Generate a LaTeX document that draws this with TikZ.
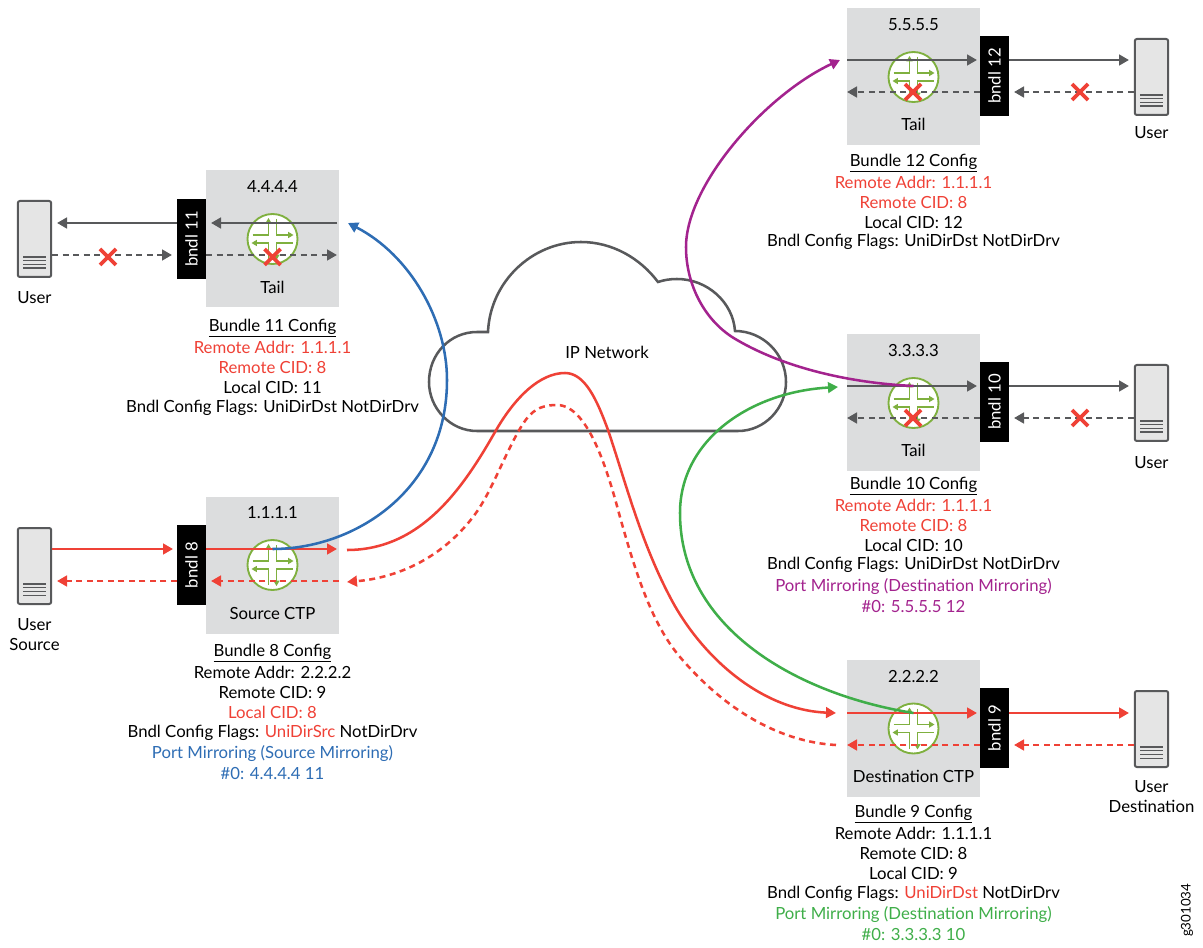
\documentclass[tikz,border=0pt]{standalone}
\usepackage{fontspec}
\setmainfont{Lato}
\usetikzlibrary{arrows.meta}
\definecolor{grayline}{HTML}{58595B}
\definecolor{boxgray}{HTML}{DCDDDE}
\definecolor{redc}{HTML}{EF4136}
\definecolor{bluec}{HTML}{2E6DB4}
\definecolor{purplec}{HTML}{A3238E}
\definecolor{greenc}{HTML}{3FAE49}
\definecolor{routerg}{HTML}{7FB03F}
\tikzset{
  every node/.style={font=\fontsize{12.55pt}{14pt}\selectfont,inner sep=0pt,text=black},
  tip/.style={-{Triangle[length=7.5pt,width=8pt]}},
  solidg/.style={tip,draw=grayline,line width=1.9pt,color=grayline},
  dashg/.style={solidg,dash pattern=on 4.5pt off 3.4pt},
  solidr/.style={tip,draw=redc,line width=1.9pt,color=redc},
  dashr/.style={solidr,dash pattern=on 4.5pt off 3.4pt},
  plain/.style={draw=none,fill=none,yshift=-0.2pt},
  bigbox/.style={fill=boxgray,draw=none,minimum width=100pt,minimum height=102.75pt},
  bndlbox/.style={fill=black,draw=none,minimum width=60pt,minimum height=22pt,rotate=90,text=white},
  userbox/.style={fill=black!10,draw=grayline,line width=1.5pt,rounded corners=1.5pt,minimum width=25pt,minimum height=57pt},
  routerc/.style={circle,draw=routerg,line width=1.4pt,fill=white,minimum size=37.5pt},
  ra/.style={draw=routerg,line width=1.1pt,-{Triangle[length=4pt,width=4.5pt]}},
  xm/.style={draw=redc,line width=2.8pt},
  curve/.style={tip,line width=1.9pt},
}
% #1 name, #2 x, #3 y
\newcommand{\router}[3]{%
  \node[routerc] (#1) at (#2,#3) {};
  \draw[ra] (#2-20,#3-4) -- (#2-4,#3-4) -- (#2-4,#3-21);
  \draw[ra] (#2+4,#3-20) -- (#2+4,#3-4) -- (#2+21,#3-4);
  \draw[ra] (#2+20,#3+4) -- (#2+4,#3+4) -- (#2+4,#3+21);
  \draw[ra] (#2-4,#3+20) -- (#2-4,#3+4) -- (#2-21,#3+4);
}
\newcommand{\xmark}[2]{\draw[xm] (#1-8,#2-8) -- (#1+8,#2+8) (#1-8,#2+8) -- (#1+8,#2-8);}
\newcommand{\serverlines}[2]{%
  \foreach \yy in {0,1,2,3}{\draw[grayline,line width=.9pt] (#1-11.5,#2+18+\yy*3.7) -- (#1+11.5,#2+18+\yy*3.7);}
}
\begin{document}
\begin{tikzpicture}[x=0.75pt,y=-0.75pt]
\useasboundingbox (0,0) rectangle (1203,948);
% cloud
\draw[grayline,line width=1.9pt,fill=white]
  (477,431) .. controls (450,431) and (429,408) .. (429,382)
  .. controls (429,354) and (450,332) .. (477,332) -- (488,332)
  .. controls (490,282) and (532,242) .. (581,242)
  .. controls (612,242) and (640,258) .. (658,282)
  .. controls (664,280) and (670,279) .. (677,279)
  .. controls (707,279) and (733,302) .. (735,331)
  .. controls (763,331) and (786,354) .. (786,382)
  .. controls (786,408) and (765,431) .. (738,431) -- cycle;
\node[plain] (net) at (607,352) {IP Network};
% boxes
\node[bigbox] (box11) at (272.5,238.5) {};
\node[bigbox] (box8) at (272.5,565) {};
\node[bigbox] (box12) at (913.5,76.5) {};
\node[bigbox] (box10) at (913.5,402.5) {};
\node[bigbox] (box9) at (913.5,728.5) {};
\node[plain] at (272.5,186) {4.4.4.4};
\node[plain] at (272.5,512) {1.1.1.1};
\node[plain] at (913.5,24) {5.5.5.5};
\node[plain] at (913.5,350) {3.3.3.3};
\node[plain] at (913.5,676) {2.2.2.2};
\node[plain] at (272.5,287) {Tail};
\node[plain] at (272.5,613) {Source CTP};
\node[plain] at (913.5,124) {Tail};
\node[plain] at (913.5,450) {Tail};
\node[plain] at (913.5,776) {Destination CTP};
\router{r11}{272.5}{239}
\router{r8}{272.5}{565}
\router{r12}{913.5}{77}
\router{r10}{913.5}{403}
\router{r9}{913.5}{728.5}
% bundles
\node[bndlbox] (b11) at (191.5,239) {bndl 11};
\node[bndlbox] (b8) at (191.5,565) {bndl 8};
\node[bndlbox] (b12) at (994.5,76) {bndl 12};
\node[bndlbox] (b10) at (994.5,402) {bndl 10};
\node[bndlbox] (b9) at (994.5,728) {bndl 9};
% users
\node[userbox] (u11) at (34.5,239) {};
\node[userbox] (u8) at (34.5,566) {};
\node[userbox] (u12) at (1151.5,77) {};
\node[userbox] (u10) at (1151.5,403) {};
\node[userbox] (u9) at (1151.5,729) {};
\serverlines{34.5}{239}
\serverlines{34.5}{566}
\serverlines{1151.5}{77}
\serverlines{1151.5}{403}
\serverlines{1151.5}{729}
\node[plain] at (34.5,297) {User};
\node[plain] at (34.5,624) {User};
\node[plain] at (34.5,644) {Source};
\node[plain] at (1151.5,132) {User};
\node[plain] at (1151.5,462) {User};
\node[plain] at (1151.5,786) {User};
\node[plain] at (1151.5,806) {Destination};
% connectors: bundle 11
\coordinate (a11) at (337,223); \coordinate (c11) at (211,223);
\coordinate (d11) at (206,255); \coordinate (e11) at (337,255);
\draw[solidg] (b11.north |- a11) -- (57,223);
\draw[solidg] (a11) -- (c11);
\draw[dashg] (52,255) -- (172,255);
\draw[dashg] (d11) -- (e11);
% bundle 12
\draw[solidg] (847,60) -- (977,60);
\draw[solidg] (1009,60) -- (1129,60);
\draw[dashg] (1134,92) -- (1014,92);
\draw[dashg] (980,92) -- (847,92);
% bundle 10
\draw[solidg] (847,386) -- (977,386);
\draw[solidg] (1009,386) -- (1129,386);
\draw[dashg] (1134,418) -- (1014,418);
\draw[dashg] (980,418) -- (847,418);
% bundle 8
\draw[solidr] (52,549) -- (173,549);
\draw[solidr] (206,549) -- (337,549);
\draw[dashr] (177,581) -- (57,581);
\draw[dashr] (339,581) -- (211,581);
% bundle 9
\draw[solidr] (847,713) -- (977,713);
\draw[solidr] (1009,713) -- (1129,713);
\draw[dashr] (1134,745) -- (1014,745);
\draw[dashr] (980,745) -- (847,745);
% marks
\xmark{108}{257}
\xmark{272.5}{257}
\xmark{1080}{92}
\xmark{913}{92}
\xmark{1080}{418}
\xmark{913}{418}
% long curves
\draw[curve,bluec] (r8.center |- 0,549) .. controls (355,549) and (447,490) .. (447,380)
  .. controls (447,320) and (410,255) .. (348,223);
\draw[curve,redc] (347,550) .. controls (420,550) and (462,490) .. (495,432)
  .. controls (515,397) and (540,373) .. (565,373)
  .. controls (585,373) and (597,400) .. (608,430)
  .. controls (625,480) and (640,540) .. (670,597)
  .. controls (700,655) and (760,710) .. (836,713);
\draw[curve,redc,dash pattern=on 4.5pt off 3.4pt] (836,745) .. controls (780,742) and (725,710) .. (680,657)
  .. controls (651,623) and (635,570) .. (620,517)
  .. controls (610,480) and (590,405) .. (557,405)
  .. controls (535,405) and (528,415) .. (518,432)
  .. controls (500,465) and (490,495) .. (473,517)
  .. controls (440,560) and (395,578) .. (347,582);
\draw[curve,greenc] (r9.center |- 0,713) .. controls (800,695) and (680,630) .. (680,513)
  .. controls (680,440) and (750,392) .. (838,387);
\draw[curve,purplec] (r10.center |- 0,386) .. controls (850,383) and (785,368) .. (737,340)
  .. controls (705,322) and (686,285) .. (686,247)
  .. controls (686,185) and (765,95) .. (840,60);
% configs
\node[plain] (t11) at (272.5,328) {\underline{Bundle 11 Config}};
\node[plain,text=redc] at (272.5,347) {Remote Addr: 1.1.1.1};
\node[plain,text=redc] at (272.5,367) {Remote CID: 8};
\node[plain] at (272.5,387) {Local CID: 11};
\node[plain] at (272.5,408) {Bndl Config Flags: UniDirDst NotDirDrv};

\node[plain] (t8) at (272.5,653) {\underline{Bundle 8 Config}};
\node[plain] at (272.5,672) {Remote Addr: 2.2.2.2};
\node[plain] at (272.5,692) {Remote CID: 9};
\node[plain,text=redc] at (272.5,712) {Local CID: 8};
\node[plain] at (272.5,733) {Bndl Config Flags: \textcolor{redc}{UniDirSrc} NotDirDrv};
\node[plain,text=bluec] at (272.5,753) {Port Mirroring (Source Mirroring)};
\node[plain,text=bluec] at (272.5,773) {\#0: 4.4.4.4 11};

\node[plain] (t12) at (913.5,163) {\underline{Bundle 12 Config}};
\node[plain,text=redc] at (913.5,182) {Remote Addr: 1.1.1.1};
\node[plain,text=redc] at (913.5,202) {Remote CID: 8};
\node[plain] at (913.5,222) {Local CID: 12};
\node[plain] at (913.5,242) {Bndl Config Flags: UniDirDst NotDirDrv};

\node[plain] (t10) at (913.5,486) {\underline{Bundle 10 Config}};
\node[plain,text=redc] at (913.5,505) {Remote Addr: 1.1.1.1};
\node[plain,text=redc] at (913.5,525) {Remote CID: 8};
\node[plain] at (913.5,545) {Local CID: 10};
\node[plain] at (913.5,565) {Bndl Config Flags: UniDirDst NotDirDrv};
\node[plain,text=purplec] at (913.5,586) {Port Mirroring (Destination Mirroring)};
\node[plain,text=purplec] at (913.5,606) {\#0: 5.5.5.5 12};

\node[plain] (t9) at (913.5,814) {\underline{Bundle 9 Config}};
\node[plain] at (913.5,833) {Remote Addr: 1.1.1.1};
\node[plain] at (913.5,853) {Remote CID: 8};
\node[plain] at (913.5,873) {Local CID: 9};
\node[plain] at (913.5,894) {Bndl Config Flags: \textcolor{redc}{UniDirDst} NotDirDrv};
\node[plain,text=greenc] at (913.5,914) {Port Mirroring (Destination Mirroring)};
\node[plain,text=greenc] at (913.5,934) {\#0: 3.3.3.3 10};
\node[plain,rotate=90,font=\fontsize{10pt}{12pt}\selectfont] (gid) at (1187,910) {g301034};
\end{tikzpicture}
\end{document}
